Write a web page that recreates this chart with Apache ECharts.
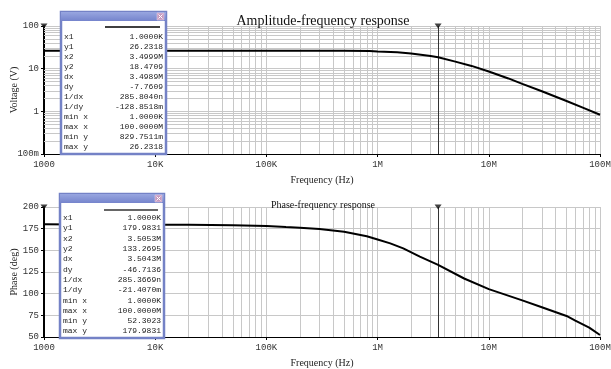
<!DOCTYPE html>
<html><head><meta charset="utf-8">
<script src="https://cdn.jsdelivr.net/npm/echarts@6/dist/echarts.min.js"></script>
<style>html,body{margin:0;padding:0;background:#fff}#c{width:611px;height:369px}</style>
</head><body><div id="c"></div>
<script>
const ampFreq = [1e3,2e3,5e3,1e4,2e4,5e4,1e5,2e5,5e5,8.5e5,1e6,1.5e6,2e6,3e6,3.5e6,5e6,7e6,1e7,1.5e7,2e7,3e7,5e7,7e7,1e8];
const amplitude = [26.23,26.23,26.23,26.23,26.23,26.23,26.23,26.23,26.2,26.0,25.3,24.2,22.6,19.9,18.47,14.6,11.6,8.6,5.9,4.4,2.95,1.75,1.22,0.83];
const phFreq = [1e3,2e3,5e3,1e4,2e4,5e4,1e5,1.5e5,2e5,3e5,5e5,8e5,1e6,1.3e6,1.7e6,2.4e6,3.5e6,6e6,1e7,2e7,3e7,5e7,6e7,8e7,1e8];
const phase = [180,179.9,179.8,179.6,179.4,178.9,178.1,176.8,176.0,174.5,171.4,166.3,162.5,158.0,152.3,142.7,133.27,117.5,105.2,92.2,84.3,74.3,69.0,60.8,52.3];
const cursorX = 3.5e6;
const xTickLabels = {3:'1000',4:'10K',5:'100K',6:'1M',7:'10M',8:'100M'};
const ampTickLabels = {'-1':'100m',0:'1',1:'10',2:'100'};
const ampBoxLabels = ['x1','y1','x2','y2','dx','dy','1/dx','1/dy','min x','max x','min y','max y'];
const ampBoxValues = ['1.0000K','26.2318','3.4999M','18.4709','3.4989M','-7.7609','285.8040n','-128.8518m','1.0000K','100.0000M','829.7511m','26.2318'];
const phBoxLabels = ampBoxLabels;
const phBoxValues = ['1.0000K','179.9831','3.5053M','133.2695','3.5043M','-46.7136','285.3669n','-21.4070m','1.0000K','100.0000M','52.3023','179.9831'];

const mono = 'Liberation Mono';
const serif = 'Liberation Serif';
const gridColor = '#c8c8c8';

// minor grid positions
const xMinor = [];
for (let e = 3; e < 8; e++) for (let m = 2; m <= 9; m++) xMinor.push(m * Math.pow(10, e));
const yMinor = [];
for (let e = -1; e < 2; e++) for (let m = 2; m <= 9; m++) yMinor.push(+(m * Math.pow(10, e)).toFixed(3));

function xAxisCfg(gi){
  return {type:'log', logBase:10, min:1e3, max:1e8, gridIndex:gi,
    name:'Frequency (Hz)', nameLocation:'middle', nameGap:21, nameMoveOverlap:false,
    nameTextStyle:{fontFamily:serif, fontSize:10, color:'#222'},
    axisLine:{show:true, lineStyle:{color:'#000', width:1}},
    axisTick:{show:true, length:3, lineStyle:{color:'#000'}},
    axisLabel:{fontFamily:mono, fontSize:9, color:'#333', margin:6,
      formatter:v=>xTickLabels[Math.round(Math.log10(v))]||''},
    splitLine:{show:true, lineStyle:{color:gridColor, width:1}},
    minorTick:{show:false}, minorSplitLine:{show:false}};
}
function vline(v){return {xAxis:v};}
function hline(v){return {yAxis:v};}

function makeBox(x, y, w, h, rowStart, rowStep, labels, values, lineY, lineColor){
  const ch = [];
  const Z = 100;
  ch.push({type:'rect', z:Z, shape:{x:x, y:y, width:w, height:h}, style:{fill:'#fff', stroke:'#7482c6', lineWidth:2.5}});
  ch.push({type:'rect', z:Z+1, shape:{x:x, y:y, width:w, height:9}, style:{fill:{type:'linear',x:0,y:0,x2:0,y2:1,colorStops:[{offset:0,color:'#98a6e0'},{offset:1,color:'#7584cc'}]}}});
  ch.push({type:'rect', z:Z+2, shape:{x:x+w-9, y:y+1, width:7, height:7}, style:{fill:'#c79bc0', stroke:'#e8d8e8', lineWidth:0.5}});
  ch.push({type:'line', z:Z+3, shape:{x1:x+w-7.5, y1:y+2.5, x2:x+w-3.5, y2:y+6.5}, style:{stroke:'#fff', lineWidth:1}});
  ch.push({type:'line', z:Z+3, shape:{x1:x+w-3.5, y1:y+2.5, x2:x+w-7.5, y2:y+6.5}, style:{stroke:'#fff', lineWidth:1}});
  ch.push({type:'line', z:Z+1, shape:{x1:x+44, y1:lineY, x2:x+w-6, y2:lineY}, style:{stroke:lineColor, lineWidth:1.5}});
  labels.forEach((l,i)=>{
    const ty = rowStart + i*rowStep;
    ch.push({type:'text', z:Z+1, style:{x:x+3, y:ty, text:l, font:'8px "'+mono+'"', fill:'#222', verticalAlign:'middle'}});
    ch.push({type:'text', z:Z+1, style:{x:x+w-3, y:ty, text:values[i], font:'8px "'+mono+'"', fill:'#222', align:'right', verticalAlign:'middle'}});
  });
  return {type:'group', children:ch, z:Z};
}

const chart = echarts.init(document.getElementById('c'), null, {renderer:'canvas'});
chart.setOption({
  animation:false,
  backgroundColor:'#fff',
  title:[
    {text:'Amplitude-frequency response', left:318, top:9, textAlign:'center', textStyle:{fontFamily:serif, fontSize:14, fontWeight:'normal', color:'#111'}},
    {text:'Phase-frequency response', left:318, top:195, textAlign:'center', textStyle:{fontFamily:serif, fontSize:10, fontWeight:'normal', color:'#111'}}
  ],
  grid:[
    {left:44, right:11, top:26, height:128, outerBoundsMode:'none', containLabel:false},
    {left:44, right:11, top:207, height:130, outerBoundsMode:'none', containLabel:false}
  ],
  xAxis:[xAxisCfg(0), xAxisCfg(1)],
  yAxis:[
    {type:'log', logBase:10, min:0.1, max:100, gridIndex:0,
      name:'Voltage (V)', nameLocation:'middle', nameGap:25, nameMoveOverlap:false,
      nameTextStyle:{fontFamily:serif, fontSize:10, color:'#222'},
      axisLine:{show:true, lineStyle:{color:'#000', width:2}},
      axisTick:{show:true, length:3, lineStyle:{color:'#000'}},
      axisLabel:{fontFamily:mono, fontSize:9, color:'#333', margin:5,
        formatter:v=>ampTickLabels[Math.round(Math.log10(v))]||''},
      splitLine:{show:true, lineStyle:{color:gridColor}}},
    {type:'value', min:50, max:200, interval:25, gridIndex:1,
      name:'Phase (deg)', nameLocation:'middle', nameGap:25, nameMoveOverlap:false,
      nameTextStyle:{fontFamily:serif, fontSize:10, color:'#222'},
      axisLine:{show:true, lineStyle:{color:'#000', width:2}},
      axisTick:{show:true, length:3, lineStyle:{color:'#000'}},
      axisLabel:{fontFamily:mono, fontSize:9, color:'#333', margin:5},
      splitLine:{show:true, lineStyle:{color:gridColor}}}
  ],
  series:[
    {type:'line', xAxisIndex:0, yAxisIndex:0, data:[], z:1, silent:true,
      markLine:{silent:true, symbol:'none', label:{show:false}, animation:false,
        lineStyle:{color:gridColor, width:1, type:'solid'},
        data:xMinor.map(vline).concat(yMinor.map(hline))}},
    {type:'line', xAxisIndex:1, yAxisIndex:1, data:[], z:1, silent:true,
      markLine:{silent:true, symbol:'none', label:{show:false}, animation:false,
        lineStyle:{color:gridColor, width:1, type:'solid'},
        data:xMinor.map(vline)}},
    {type:'line', name:'amplitude', xAxisIndex:0, yAxisIndex:0, z:5, showSymbol:false, smooth:false,
      data:ampFreq.map((f,i)=>[f, amplitude[i]]), lineStyle:{color:'#000', width:2},
      markLine:{silent:true, symbol:'none', label:{show:false}, lineStyle:{color:'#333', width:1, type:'solid'}, data:[{xAxis:cursorX}]}},
    {type:'line', name:'phase', xAxisIndex:1, yAxisIndex:1, z:5, showSymbol:false, smooth:false,
      data:phFreq.map((f,i)=>[f, phase[i]]), lineStyle:{color:'#000', width:2},
      markLine:{silent:true, symbol:'none', label:{show:false}, lineStyle:{color:'#333', width:1, type:'solid'}, data:[{xAxis:cursorX}]}},
    {type:'scatter', xAxisIndex:0, yAxisIndex:0, z:6, clip:false, symbol:'triangle', symbolRotate:180, symbolSize:[7,5],
      itemStyle:{color:'#111'}, data:[[1e3,100],[cursorX,100]]},
    {type:'scatter', xAxisIndex:1, yAxisIndex:1, z:6, clip:false, symbol:'triangle', symbolRotate:180, symbolSize:[7,5],
      itemStyle:{color:'#111'}, data:[[1e3,200],[cursorX,200]]}
  ],
  graphic:[
    makeBox(61, 12, 105, 142, 37, 10, ampBoxLabels, ampBoxValues, 27, '#000'),
    makeBox(60, 194, 104, 144, 218, 10.3, phBoxLabels, phBoxValues, 210, '#333')
  ]
});
</script>
</body></html>
